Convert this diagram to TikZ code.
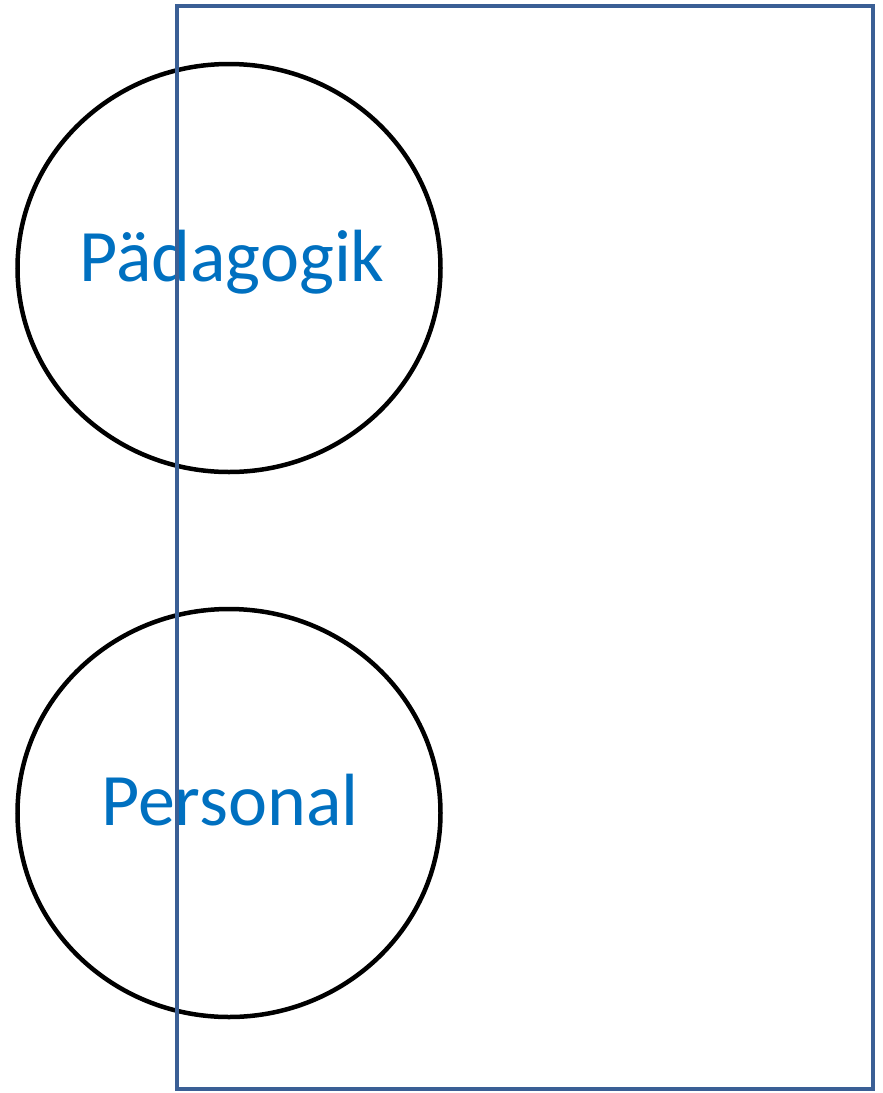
\documentclass[tikz,border=0pt]{standalone}
\usepackage{fontspec}
\setmainfont{Carlito}
\usetikzlibrary{shapes.geometric}
\definecolor{framecol}{HTML}{3A5F95}
\definecolor{textcol}{HTML}{0070C0}
\tikzset{
  topic/.style={ellipse, draw=black, line width=4.5pt, minimum width=423pt, minimum height=408pt, inner sep=0pt},
  topictext/.style={anchor=base, inner sep=0pt, text=textcol, font=\fontsize{74}{80}\selectfont},
  frame/.style={draw=framecol, line width=4pt}
}
\begin{document}
\begin{tikzpicture}[x=1pt,y=-1pt]
\useasboundingbox (0,0) rectangle (883,1093);
\node[topic] (p1) at (229,268) {};
\node[topic] (p2) at (229,813) {};
\node[topictext] (t1) at (232,281) {Pädagogik};
\node[topictext] (t2) at (230,825) {Personal};
\draw[frame] (176.5,5.5) rectangle (873,1088.5);
\end{tikzpicture}
\end{document}
